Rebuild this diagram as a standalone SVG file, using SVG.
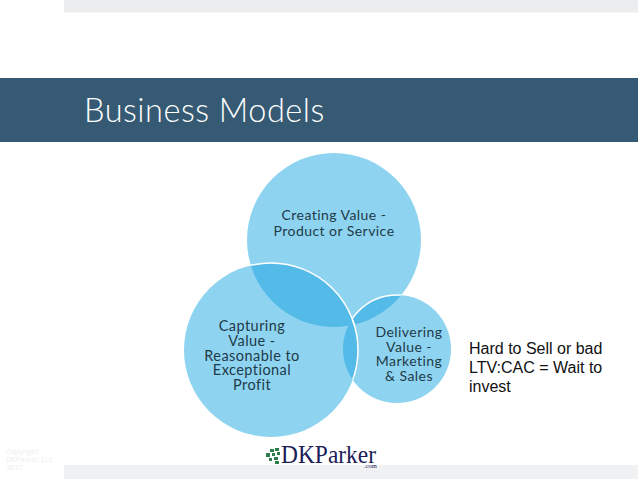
<svg xmlns="http://www.w3.org/2000/svg" width="638" height="479" viewBox="0 0 638 479">
<style>
.c{fill:#8ed4f1}
.o{fill:#54bbe9}
.l{font-family:Lato,"Open Sans","DejaVu Sans",sans-serif;font-size:14.500px;letter-spacing:.45px;fill:#1f3a48;text-anchor:middle}
.k{fill:#2f7d4a}
</style>
<defs>
<clipPath id="cA"><circle cx="334" cy="240" r="87"/></clipPath>
<clipPath id="cC"><circle cx="397" cy="349" r="54"/></clipPath>
</defs>
<rect width="638" height="479" fill="#fff"/>
<rect x="64" y="0" width="574" height="12.500" fill="#ecedef"/>
<rect x="64" y="465" width="574" height="14" fill="#f0f1f3"/>
<rect x="0" y="78" width="638" height="64" fill="#365a73"/>
<text id="title" x="84" y="122" font-family="Lato,'Open Sans',sans-serif" font-size="32.500px" font-weight="300" letter-spacing=".5" fill="#fff">Business Models</text>
<g id="connectors"></g>
<g id="creating"><circle class="c" cx="334" cy="240" r="87"/></g>
<g id="delivering"><circle class="c" cx="397" cy="349" r="54"/>
<circle class="o" cx="397" cy="349" r="54" clip-path="url(#cA)"/>
<circle cx="397" cy="349" r="54" fill="none" stroke="#fff" stroke-width="1.500" clip-path="url(#cA)"/>
</g>
<g id="capturing"><circle class="c" cx="271" cy="350" r="87"/>
<circle class="o" cx="271" cy="350" r="87" clip-path="url(#cA)"/>
<circle class="o" cx="271" cy="350" r="87" clip-path="url(#cC)"/>
<circle cx="271" cy="350" r="87" fill="none" stroke="#fff" stroke-width="1.500" clip-path="url(#cA)"/>
<circle cx="271" cy="350" r="87" fill="none" stroke="#fff" stroke-width="1.500" clip-path="url(#cC)"/>
</g>
<text class="l" y="220" style="font-size:14px"><tspan x="334">Creating Value -</tspan><tspan x="334" dy="15.500">Product or Service</tspan></text>
<text class="l" y="331"><tspan x="252">Capturing</tspan><tspan x="252" dy="15">Value -</tspan><tspan x="252" dy="14.500">Reasonable to</tspan><tspan x="252" dy="14.500">Exceptional</tspan><tspan x="252" dy="14.500">Profit</tspan></text>
<text class="l" y="337" style="font-size:14px"><tspan x="409">Delivering</tspan><tspan x="409" dy="14.500">Value -</tspan><tspan x="409" dy="14.500">Marketing</tspan><tspan x="409" dy="14.500">&amp; Sales</tspan></text>
<text font-family="'Liberation Sans',Arial,sans-serif" font-size="16px" fill="#111" y="354"><tspan x="469">Hard to Sell or bad</tspan><tspan x="469" dy="19">LTV:CAC = Wait to</tspan><tspan x="469" dy="19">invest</tspan></text>
<text font-family="'Open Sans',sans-serif" font-size="7.200px" fill="#eceef0" y="454"><tspan x="6">Copyright</tspan><tspan x="6" dy="8">DKParker, LLC</tspan><tspan x="6" dy="8">2017</tspan></text>
<g id="logo">
<rect class="k" x="270" y="449" width="4" height="3"/><rect class="k" x="275" y="448" width="4" height="3"/><rect class="k" x="277" y="452" width="3" height="3"/>
<rect class="k" x="266" y="453" width="4" height="4"/><rect class="k" x="272" y="453" width="3" height="3"/>
<rect class="k" x="269" y="458" width="3" height="3"/><rect class="k" x="274" y="457" width="4" height="3"/>
<rect class="k" x="275" y="461" width="4" height="3"/>
<text y="463" font-family="'Liberation Serif',serif" fill="#1c1c57"><tspan x="281" font-size="24.500px" textLength="95" lengthAdjust="spacingAndGlyphs">DKParker</tspan><tspan x="364" y="468" font-size="6.500px">.com</tspan></text>
</g>
</svg>
